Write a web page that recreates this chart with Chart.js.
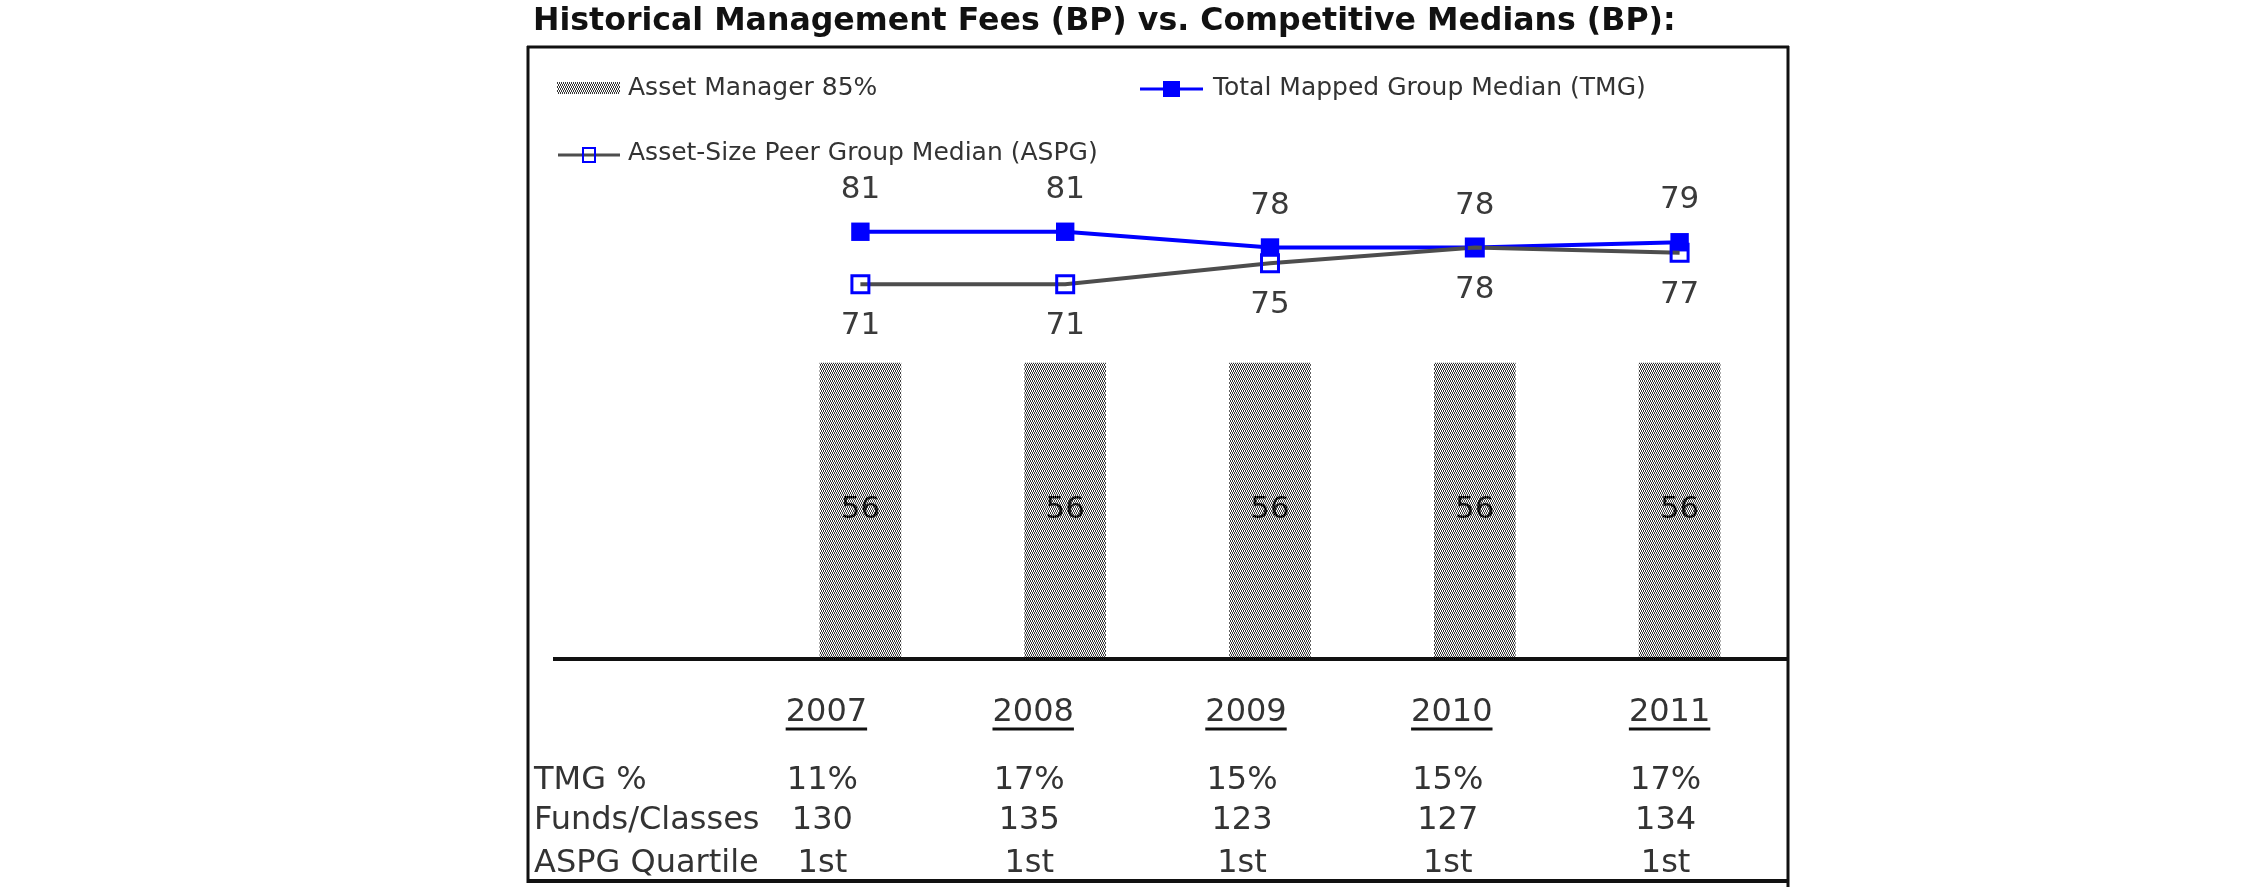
<!DOCTYPE html>
<html>
<head>
<meta charset="utf-8">
<script src="https://cdn.jsdelivr.net/npm/chart.js@4.4.1/dist/chart.umd.min.js"></script>
<style>
	html, body { margin: 0; padding: 0; background: #fff; }
	#wrap { position: relative; width: 2250px; height: 895px; }
</style>
</head>
<body>
<div id="wrap"><canvas id="feeChart" width="2250" height="895"></canvas></div>
<script>
// categories
const years = ['2007', '2008', '2009', '2010', '2011'];
// series (BP)
const assetManager = [56, 56, 56, 56, 56];
const tmgMedian = [81, 81, 78, 78, 79];
const aspgMedian = [71, 71, 75, 78, 77];
// table under the chart
const rowLabels = ['TMG %', 'Funds/Classes', 'ASPG Quartile'];
const tmgPct = ['11%', '17%', '15%', '15%', '17%'];
const fundsClasses = ['130', '135', '123', '127', '134'];
const aspgQuartile = ['1st', '1st', '1st', '1st', '1st'];
const chartTitle = 'Historical Management Fees (BP) vs. Competitive Medians (BP):';

const FONT = '"DejaVu Sans", Verdana, sans-serif';
const TEXT = '#333';

let canvas = document.getElementById('feeChart');

// stippled fill for the bars
let makePattern = function() {
	let c = document.createElement('canvas');
	c.width = 2;
	c.height = 4;
	let g = c.getContext('2d');
	g.fillStyle = '#fff';
	g.fillRect(0, 0, 2, 4);
	g.fillStyle = '#3a3a3a';
	g.fillRect(0, 0, 1, 2);
	g.fillRect(1, 2, 1, 2);
	return canvas.getContext('2d').createPattern(c, 'repeat');
}
let barPattern = makePattern();

// where the table columns sit relative to each category
const colShift = [-34, -32, -24, -23, -10];

let line = function(ctx, x1, y1, x2, y2, w, color) {
	ctx.beginPath();
	ctx.lineWidth = w;
	ctx.strokeStyle = color;
	ctx.moveTo(x1, y1);
	ctx.lineTo(x2, y2);
	ctx.stroke();
}

let decoPlugin = {
	id: 'deco',
	afterDraw: function(chart) {
		let ctx = chart.ctx;
		let ds = chart.data.datasets;
		let xs = chart.scales.x;
		ctx.save();

		// title
		ctx.fillStyle = '#111';
		ctx.font = 'bold 31.6px ' + FONT;
		ctx.textAlign = 'left';
		ctx.textBaseline = 'middle';
		ctx.fillText(chartTitle, 533, 22);

		// frame
		line(ctx, 527, 47, 1789, 47, 3, '#111');
		line(ctx, 528, 46, 528, 883, 3, '#111');
		line(ctx, 1788, 46, 1788, 887, 3, '#111');
		line(ctx, 527, 881, 1789, 881, 4, '#111');
		// base line
		line(ctx, 553, 659, 1789, 659, 4, '#111');

		// legend
		ctx.font = '25px ' + FONT;
		ctx.fillStyle = ds[0].backgroundColor;
		ctx.fillRect(557, 82, 63, 12);
		ctx.fillStyle = TEXT;
		ctx.fillText(ds[0].label, 628, 88);

		line(ctx, 1140, 89, 1203, 89, 3, ds[1].borderColor);
		ctx.fillStyle = ds[1].pointBackgroundColor;
		ctx.fillRect(1163, 81, 17, 16);
		ctx.fillStyle = TEXT;
		ctx.fillText(ds[1].label, 1213, 88);

		line(ctx, 558, 155, 620, 155, 3, ds[2].borderColor);
		ctx.lineWidth = 2;
		ctx.strokeStyle = ds[2].pointBorderColor;
		ctx.strokeRect(583, 148, 12, 14);
		ctx.fillStyle = TEXT;
		ctx.fillText(ds[2].label, 628, 153);

		// data labels
		ctx.textAlign = 'center';
		ctx.font = '31px ' + FONT;
		ctx.fillStyle = '#3a3a3a';
		chart.getDatasetMeta(1).data.forEach(function(pt, i) {
			ctx.fillText(String(tmgMedian[i]), pt.x, pt.y - 42);
		});
		chart.getDatasetMeta(2).data.forEach(function(pt, i) {
			ctx.fillText(String(aspgMedian[i]), pt.x, pt.y + 42);
		});
		ctx.fillStyle = '#1a1a1a';
		chart.getDatasetMeta(0).data.forEach(function(bar, i) {
			ctx.fillText(String(assetManager[i]), bar.x, (bar.y + bar.base) / 2);
		});

		// table
		ctx.font = '32px ' + FONT;
		ctx.fillStyle = TEXT;
		ctx.textAlign = 'left';
		let rowY = [781, 821, 864];
		rowLabels.forEach(function(lbl, r) {
			ctx.fillText(lbl, 534, rowY[r]);
		});
		let rows = [tmgPct, fundsClasses, aspgQuartile];
		ctx.textAlign = 'center';
		years.forEach(function(yr, i) {
			let cx = xs.getPixelForValue(i) + colShift[i];
			ctx.fillStyle = TEXT;
			ctx.fillText(yr, cx, 713);
			let w = ctx.measureText(yr).width;
			line(ctx, cx - w / 2, 729, cx + w / 2, 729, 3, '#111');
			rows.forEach(function(vals, r) {
				ctx.fillText(vals[i], cx - 4, rowY[r]);
			});
		});

		ctx.restore();
	}
}

let feeChart = new Chart(canvas, {
	type: 'bar',
	data: {
		labels: years,
		datasets: [
			{
				type: 'bar',
				label: 'Asset Manager 85%',
				data: assetManager,
				backgroundColor: barPattern,
				borderWidth: 0,
				barThickness: 81,
				order: 3
			},
			{
				type: 'line',
				label: 'Total Mapped Group Median (TMG)',
				data: tmgMedian,
				borderColor: '#0000ff',
				borderWidth: 4,
				tension: 0,
				pointStyle: 'rect',
				pointRadius: 13,
				pointBackgroundColor: '#0000ff',
				pointBorderColor: '#0000ff',
				pointBorderWidth: 0,
				order: 2
			},
			{
				type: 'line',
				label: 'Asset-Size Peer Group Median (ASPG)',
				data: aspgMedian,
				borderColor: '#4d4d4d',
				borderWidth: 4,
				tension: 0,
				pointStyle: 'rect',
				pointRadius: 12,
				pointBackgroundColor: 'rgba(0,0,0,0)',
				pointBorderColor: '#0000ff',
				pointBorderWidth: 3,
				order: 1
			}
		]
	},
	options: {
		responsive: false,
		animation: false,
		devicePixelRatio: 1,
		layout: {
			padding: { left: 758, right: 468, top: 132, bottom: 238 }
		},
		scales: {
			x: { display: false, offset: true, grid: { display: false } },
			y: { display: false, min: 0, max: 100 }
		},
		plugins: {
			legend: { display: false },
			tooltip: { enabled: false },
			title: { display: false }
		}
	},
	plugins: [decoPlugin]
});
</script>
</body>
</html>
